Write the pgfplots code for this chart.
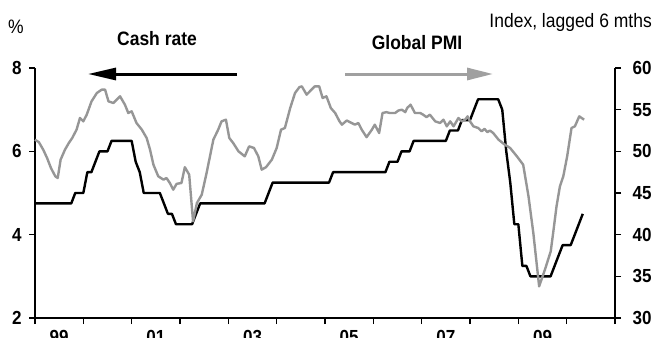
\documentclass[border=0pt]{standalone}
\usepackage{fontspec}
\setmainfont{Liberation Sans}[FakeStretch=0.9]
\usepackage{pgfplots}
\pgfplotsset{compat=1.18}
\usetikzlibrary{arrows.meta}
\definecolor{pmigray}{RGB}{150,150,150}
\definecolor{arrgray}{RGB}{160,160,160}
\pgfplotstableread{
x y
1999.000 4.75
1999.750 4.75
1999.833 5.00
2000.000 5.00
2000.083 5.50
2000.167 5.50
2000.250 5.75
2000.333 6.00
2000.500 6.00
2000.583 6.25
2001.000 6.25
2001.083 5.75
2001.167 5.50
2001.250 5.00
2001.583 5.00
2001.667 4.75
2001.750 4.50
2001.833 4.50
2001.917 4.25
2002.250 4.25
2002.333 4.50
2002.417 4.75
2003.750 4.75
2003.833 5.00
2003.917 5.25
2005.083 5.25
2005.167 5.50
2006.250 5.50
2006.333 5.75
2006.500 5.75
2006.583 6.00
2006.750 6.00
2006.833 6.25
2007.500 6.25
2007.583 6.50
2007.750 6.50
2007.833 6.75
2008.000 6.75
2008.083 7.00
2008.167 7.25
2008.583 7.25
2008.667 7.00
2008.750 6.00
2008.833 5.25
2008.917 4.25
2009.000 4.25
2009.083 3.25
2009.167 3.25
2009.250 3.00
2009.667 3.00
2009.750 3.25
2009.833 3.50
2009.917 3.75
2010.083 3.75
2010.167 4.00
2010.250 4.25
2010.333 4.50
}\cashrate
\pgfplotstableread{
x y
1999.00 51.4
1999.08 51.1
1999.17 50.2
1999.25 49.2
1999.33 48.0
1999.42 47.0
1999.47 46.8
1999.53 49.0
1999.62 50.2
1999.70 51.0
1999.77 51.6
1999.86 52.6
1999.93 54.0
2000.00 53.6
2000.07 54.4
2000.17 56.0
2000.28 57.0
2000.38 57.4
2000.45 57.4
2000.52 56.0
2000.62 55.8
2000.76 56.6
2000.86 55.6
2000.93 54.6
2001.00 54.8
2001.10 53.4
2001.21 52.6
2001.31 51.6
2001.38 50.2
2001.45 48.4
2001.55 47.0
2001.66 46.6
2001.72 46.8
2001.79 46.2
2001.86 45.4
2001.93 46.1
2002.03 46.2
2002.10 48.1
2002.19 47.2
2002.27 41.6
2002.35 43.8
2002.45 44.8
2002.55 47.4
2002.69 51.4
2002.79 52.6
2002.86 53.6
2002.95 53.8
2003.02 51.6
2003.10 51.0
2003.21 50.0
2003.34 49.4
2003.43 50.6
2003.53 50.4
2003.62 49.4
2003.69 47.8
2003.78 48.1
2003.90 49.0
2004.00 50.4
2004.09 52.6
2004.17 52.8
2004.28 55.2
2004.38 57.0
2004.47 57.7
2004.52 57.8
2004.62 56.8
2004.72 57.4
2004.79 57.8
2004.88 57.8
2004.95 56.4
2005.03 56.6
2005.12 55.2
2005.21 54.6
2005.30 53.6
2005.35 53.2
2005.45 53.7
2005.55 53.4
2005.62 53.2
2005.69 53.4
2005.76 52.6
2005.86 51.7
2005.97 52.6
2006.03 53.2
2006.12 52.2
2006.19 54.6
2006.27 54.7
2006.34 54.6
2006.45 54.6
2006.52 54.9
2006.59 55.0
2006.66 54.7
2006.70 55.2
2006.77 55.6
2006.86 54.6
2006.97 54.6
2007.03 54.4
2007.10 54.1
2007.17 54.4
2007.28 53.6
2007.38 53.4
2007.45 53.8
2007.52 53.0
2007.59 53.6
2007.66 53.0
2007.76 54.0
2007.83 53.6
2007.90 53.8
2007.95 54.2
2008.00 53.6
2008.07 53.0
2008.17 52.8
2008.24 52.4
2008.30 52.7
2008.36 52.3
2008.41 52.5
2008.48 52.2
2008.59 51.4
2008.72 50.8
2008.83 50.4
2008.97 49.4
2009.10 48.4
2009.21 44.6
2009.31 40.2
2009.43 33.8
2009.55 35.8
2009.67 38.0
2009.72 40.2
2009.79 43.4
2009.86 45.8
2009.93 47.0
2010.01 49.4
2010.10 52.8
2010.17 53.0
2010.26 54.2
2010.36 53.8
}\pmi
\pgfplotsset{
  myaxis/.style={
    at={(0,0)}, anchor=south west,
    scale only axis, width=580bp, height=250bp,
    xmin=1999, xmax=2011,
    axis line style={-, line width=1.8bp},
    every tick/.style={black, line width=1.5bp},
    tick align=outside,
    major tick length=6bp,
    tick label style={font=\fontsize{19}{19}\selectfont\bfseries},
    /pgf/number format/assume math mode=true,
    clip=false,
  }
}
\begin{document}
\begin{tikzpicture}[x=1bp,y=1bp]
\path[use as bounding box] (-35,-19) rectangle (618,318);
\begin{axis}[myaxis,
  ymin=2, ymax=8, ytick={2,4,6,8},
  axis x line*=bottom, axis y line*=left,
  xtick={1999,2000,...,2011}, xticklabels={},
  extra x ticks={1999.5,2001.5,2003.5,2005.5,2007.5,2009.5},
  extra x tick labels={99,01,03,05,07,09},
  extra x tick style={major tick length=0pt, xticklabel style={yshift=-9bp}},
  yticklabel style={xshift=-4bp},
]
\addplot[black, line width=2.4bp, line join=round] table {\cashrate};
\end{axis}
\begin{axis}[myaxis,
  ymin=30, ymax=60, ytick={30,35,...,60},
  axis x line=none, axis y line*=right,
  yticklabel style={xshift=8bp},
]
\addplot[pmigray, line width=2.4bp, line join=round] table {\pmi};
\end{axis}
\draw[line width=3bp, -{Triangle[length=28bp,width=12bp]}] (202,244) -- (53,244);
\draw[arrgray, line width=3bp, -{Triangle[length=26bp,width=12bp]}] (310,244) -- (458,244);
\node[anchor=base, inner sep=0] at (122,272.5) {\fontsize{19.5}{19.5}\selectfont\bfseries Cash rate};
\node[anchor=base, inner sep=0] at (382,269) {\fontsize{19.5}{19.5}\selectfont\bfseries Global PMI};
\node[anchor=base, inner sep=0] at (-19,285) {\fontsize{19.5}{19.5}\selectfont \%};
\node[anchor=base east, inner sep=0] at (617,291) {\fontsize{19.5}{19.5}\selectfont Index, lagged 6 mths};
\end{tikzpicture}
\end{document}
